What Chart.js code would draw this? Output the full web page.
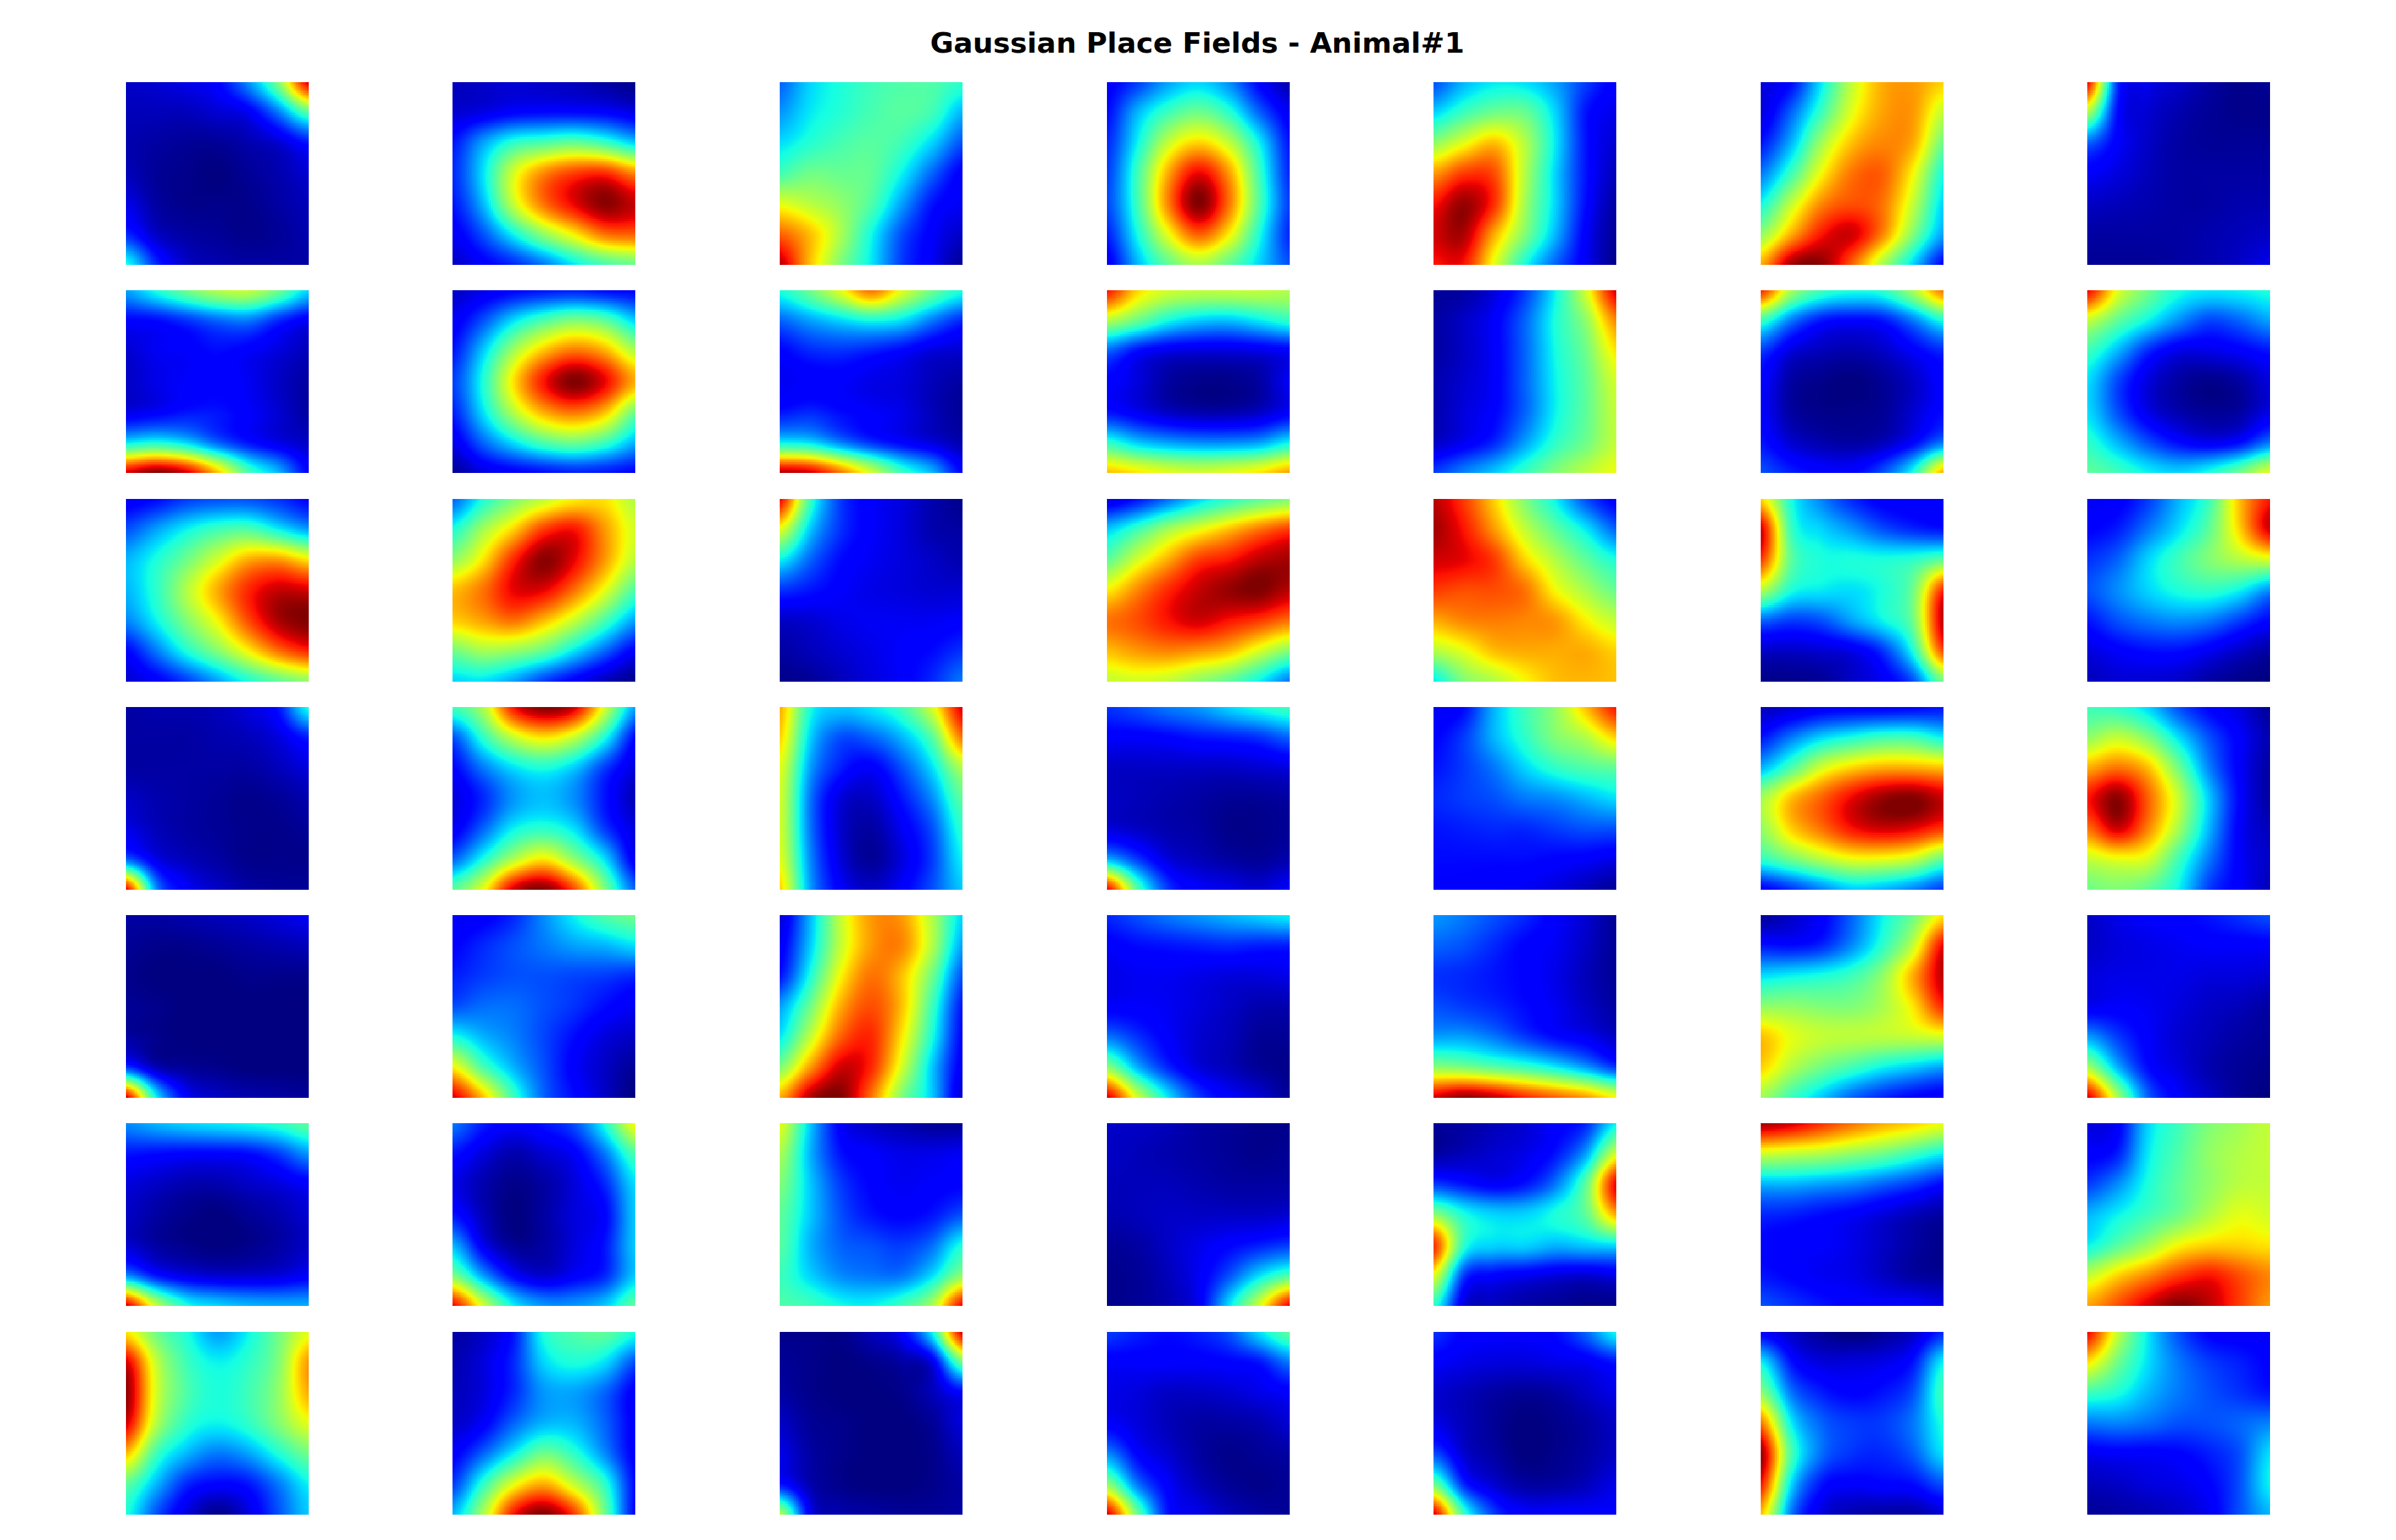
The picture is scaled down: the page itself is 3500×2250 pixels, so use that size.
<!DOCTYPE html>
<html>
<head>
<meta charset="utf-8">
<title>Gaussian Place Fields - Animal#1</title>
<script src="https://cdn.jsdelivr.net/npm/chart.js@4"></script>
<style>
  body { margin: 0; background: #fff; width: 3500px; height: 2250px; position: relative; overflow: hidden; }
  #title { position: absolute; left: 0; width: 3498px; top: 38px; text-align: center;
           font: bold 41.67px "DejaVu Sans"; color: #000; }
  canvas { position: absolute; }
</style>
</head>
<body>
<div id="title">Gaussian Place Fields - Animal#1</div>
<script>
// firing rate at 7x7 sample positions, top row first, 0-99 on the colour scale
const f11 = [[6,7,9,12,26,50,92],[5,5,5,7,10,24,45],[4,3,2,2,4,7,14],[5,2,1,0,2,4,7],[9,3,1,1,1,3,5],[16,6,3,2,1,2,4],[38,16,6,4,3,3,3]];
const f12 = [[5,6,7,6,5,3,1],[7,9,12,13,13,12,9],[14,28,40,44,47,42,33],[16,34,60,76,84,86,76],[14,30,58,78,90,98,93],[10,20,36,52,65,78,80],[6,11,16,24,35,43,47]];
const f13 = [[22,33,38,42,44,44,40],[27,35,39,43,45,42,30],[34,39,43,45,42,33,20],[43,48,47,46,36,22,11],[62,57,52,44,28,14,10],[80,70,55,37,20,11,6],[94,70,50,35,18,10,2]];
const f14 = [[11,18,28,33,26,12,4],[13,30,42,48,40,22,10],[16,36,58,68,58,36,14],[18,42,72,90,74,42,16],[19,42,76,99,78,44,18],[15,37,62,80,65,38,16],[10,30,46,55,46,33,20]];
const f15 = [[20,30,35,34,28,18,11],[33,42,48,47,33,14,9],[52,62,70,56,35,14,7],[74,84,82,56,33,14,5],[88,97,85,54,33,13,3],[92,95,72,50,30,11,2],[88,88,62,38,22,10,1]];
const f16 = [[8,13,35,58,72,74,68],[8,22,42,62,73,74,58],[14,30,54,70,76,72,48],[24,42,64,78,80,64,38],[37,58,76,82,78,58,33],[52,72,88,92,76,50,28],[72,96,98,80,55,33,12]];
const f17 = [[90,17,9,6,3,1,2],[55,13,7,4,2,1,1],[22,11,6,3,2,2,2],[11,8,5,3,3,3,3],[6,5,4,3,3,4,4],[3,3,3,3,4,5,6],[2,2,2,3,4,6,9]];

const f21 = [[28,38,48,56,58,48,33],[12,13,17,22,24,16,10],[7,10,11,13,11,8,5],[6,9,11,12,10,6,3],[9,11,14,14,11,7,3],[35,38,33,22,14,9,6],[92,99,92,70,44,30,12]];
const f22 = [[6,9,12,14,15,13,12],[10,20,34,44,50,46,33],[14,32,54,70,78,72,56],[18,38,66,88,99,90,72],[15,34,56,72,78,70,48],[9,22,34,44,48,42,30],[2,8,11,13,15,14,12]];
const f23 = [[38,48,62,78,62,48,38],[22,28,33,37,34,24,16],[12,16,17,15,12,8,7],[10,11,11,9,8,5,3],[14,16,13,11,9,5,2],[36,34,25,17,12,8,4],[95,92,78,60,42,30,12]];
const f24 = [[88,68,60,58,58,58,56],[56,47,37,32,31,35,40],[22,13,9,8,8,9,11],[12,8,3,1,1,3,10],[14,10,6,4,4,6,11],[40,32,28,26,26,28,36],[70,66,62,60,62,66,73]];
const f25 = [[2,3,8,18,36,60,92],[3,6,11,22,38,52,76],[3,6,11,22,37,48,66],[4,7,11,22,36,46,60],[4,8,12,22,36,46,58],[6,10,16,28,40,48,58],[18,25,32,41,50,57,63]];
const f26 = [[86,55,42,38,40,55,78],[42,24,14,12,14,24,38],[18,8,5,4,6,11,16],[12,3,1,0,2,6,12],[11,3,1,1,2,7,13],[14,7,4,3,5,12,24],[20,15,12,12,20,38,72]];
const f27 = [[90,62,48,38,35,36,38],[58,46,36,26,19,22,28],[42,30,16,9,9,11,14],[34,19,8,3,1,3,8],[34,20,9,4,2,3,9],[40,30,20,13,10,13,24],[46,42,36,33,38,48,62]];

const f31 = [[10,13,18,20,20,17,12],[20,28,36,42,44,36,28],[30,38,48,60,72,74,66],[30,40,56,72,86,93,92],[25,36,50,64,82,95,99],[12,24,38,50,64,78,86],[7,11,18,28,38,46,52]];
const f32 = [[22,38,50,58,65,66,56],[38,54,68,84,88,74,60],[52,66,86,98,90,74,57],[70,78,90,90,78,62,44],[68,73,78,70,58,43,28],[48,54,52,46,34,22,11],[33,34,28,18,11,5,1]];
const f33 = [[90,42,18,11,8,4,1],[62,32,17,11,8,4,3],[36,22,13,10,8,6,4],[17,14,11,9,8,7,7],[6,7,9,10,10,10,11],[3,5,7,9,11,13,17],[1,2,5,8,11,16,24]];
const f34 = [[8,14,23,33,40,46,50],[32,42,54,62,70,78,84],[46,60,72,84,88,94,96],[65,76,86,93,97,99,94],[78,82,88,92,88,84,78],[70,74,76,74,70,60,50],[58,60,58,52,46,36,24]];
const f35 = [[94,84,68,50,36,20,11],[96,88,74,58,46,35,22],[92,90,84,68,56,46,38],[84,82,82,78,64,55,47],[72,76,77,76,74,65,58],[56,62,70,72,72,72,68],[35,50,56,64,70,71,70]];
const f36 = [[68,38,25,16,11,11,11],[92,42,33,27,20,16,14],[84,46,38,38,38,40,46],[56,38,35,34,38,48,86],[22,18,20,28,36,48,94],[6,6,7,9,17,38,82],[1,1,2,6,10,20,48]];
const f37 = [[10,11,18,30,42,70,88],[12,15,24,34,46,68,92],[17,22,33,42,50,56,60],[20,26,33,38,40,36,26],[14,20,24,26,24,18,12],[8,11,13,13,10,6,3],[5,7,7,6,3,1,0]];

const f41 = [[3,4,4,5,8,14,38],[3,3,3,4,5,8,15],[3,3,3,3,3,5,8],[6,4,3,2,1,2,4],[9,5,3,2,1,1,2],[22,9,5,3,1,1,1],[90,26,11,6,3,2,2]];
const f42 = [[42,55,88,99,92,60,28],[20,40,58,66,58,38,13],[12,24,34,38,32,18,8],[8,16,27,31,26,14,5],[10,22,36,40,34,18,8],[22,38,56,66,52,34,10],[45,62,92,99,82,50,22]];
const f43 = [[72,38,32,35,42,60,92],[68,33,20,22,30,45,78],[62,28,15,11,20,34,56],[60,24,8,6,14,26,46],[60,24,7,3,10,20,40],[62,26,8,2,8,18,36],[68,28,11,6,11,20,32]];
const f44 = [[17,20,24,27,33,38,42],[11,11,12,14,15,17,22],[6,6,6,6,6,7,8],[6,5,4,3,2,2,3],[8,6,4,3,1,1,2],[30,18,8,5,3,2,4],[90,45,18,11,9,7,11]];
const f45 = [[10,13,30,42,52,70,88],[12,18,30,40,50,56,68],[14,18,24,33,40,44,46],[16,18,20,24,26,30,34],[14,15,16,16,18,20,20],[13,13,13,13,12,11,9],[12,12,11,10,8,5,2]];
const f46 = [[5,7,10,11,11,12,14],[14,24,33,38,42,42,36],[30,44,60,68,72,72,70],[54,70,80,90,97,99,93],[52,68,78,88,92,90,84],[40,48,56,62,62,58,46],[11,17,25,32,30,25,18]];
const f47 = [[42,40,33,20,12,8,2],[52,58,50,34,20,11,4],[72,78,70,48,25,11,3],[88,98,80,58,32,12,3],[78,92,76,54,30,11,5],[58,62,60,42,24,11,6],[48,50,46,36,18,11,5]];

const f51 = [[3,3,4,5,6,8,10],[2,1,1,2,3,4,5],[1,0,0,0,1,1,1],[2,1,0,0,0,0,0],[3,1,0,0,0,0,0],[18,5,2,1,0,0,0],[92,36,11,6,4,3,2]];
const f52 = [[10,11,16,26,36,44,48],[12,16,20,24,28,30,34],[15,18,20,20,19,18,16],[20,23,23,20,17,13,10],[38,30,25,19,13,8,6],[65,44,30,20,11,6,2],[92,70,42,22,13,6,0]];
const f53 = [[7,30,58,74,74,56,33],[10,32,58,74,76,56,28],[14,38,64,78,70,48,20],[28,48,72,82,70,42,14],[35,58,80,86,66,38,12],[50,74,92,86,60,32,10],[72,95,99,78,50,32,6]];
const f54 = [[16,20,24,27,30,33,36],[11,13,14,15,16,15,15],[9,10,10,9,8,8,9],[11,11,10,8,6,4,4],[24,17,11,7,5,2,2],[52,30,16,8,5,2,1],[92,60,35,18,11,7,2]];
const f55 = [[27,24,20,16,11,7,2],[22,20,16,12,10,6,2],[17,16,14,12,9,5,2],[20,18,16,13,10,6,3],[28,28,24,18,13,10,6],[52,50,46,42,36,28,18],[92,98,94,86,80,74,64]];
const f56 = [[2,6,11,22,36,48,66],[14,13,16,26,40,58,90],[34,36,38,42,52,72,94],[52,52,50,50,55,66,86],[70,62,58,57,57,58,60],[68,56,48,42,36,32,28],[54,42,32,22,16,12,10]];
const f57 = [[6,9,11,12,14,17,20],[6,8,9,10,11,11,11],[8,9,9,9,8,8,7],[10,11,10,8,6,5,3],[28,18,11,7,5,3,2],[55,30,13,8,4,2,1],[92,55,22,11,6,2,0]];

const f61 = [[26,30,33,35,37,40,46],[14,13,12,12,13,18,27],[8,6,4,4,6,8,11],[6,3,1,0,2,4,7],[7,3,1,0,1,3,6],[26,14,9,7,7,8,11],[92,58,38,33,30,29,29]];
const f62 = [[24,15,11,14,20,38,64],[14,8,4,7,11,24,44],[9,4,1,3,8,16,34],[14,5,0,3,8,12,32],[30,10,2,3,8,14,32],[50,28,12,7,11,16,32],[90,60,36,27,27,32,46]];
const f63 = [[62,32,11,6,4,2,2],[55,30,14,11,9,9,10],[50,32,18,12,10,11,12],[46,32,20,14,12,14,20],[45,30,22,20,18,23,38],[42,33,26,24,24,34,52],[44,42,37,36,42,55,90]];
const f64 = [[6,6,5,3,2,1,1],[6,5,4,3,2,1,2],[5,5,5,4,3,3,3],[4,5,6,6,6,6,7],[2,3,6,9,12,15,18],[1,2,5,10,20,34,44],[1,2,4,10,34,60,90]];
const f65 = [[2,3,5,7,11,16,36],[3,5,7,9,14,28,60],[18,14,11,14,24,46,90],[52,38,33,33,38,46,72],[85,40,33,33,30,32,34],[62,18,12,10,8,7,9],[40,8,5,3,2,1,1]];
const f66 = [[96,92,85,78,72,68,63],[60,58,56,52,48,42,36],[30,30,28,26,22,18,13],[16,15,13,11,8,5,3],[12,11,11,9,6,3,1],[14,12,10,9,6,3,2],[20,17,14,12,11,11,9]];
const f67 = [[8,11,33,42,50,54,58],[11,15,35,44,52,56,58],[18,26,38,46,52,57,58],[30,36,42,48,56,62,60],[36,45,54,64,68,68,66],[58,68,76,84,88,82,76],[73,82,92,99,94,84,74]];

const f71 = [[66,48,38,28,36,48,62],[92,58,42,36,40,50,74],[98,60,44,38,42,52,72],[92,56,40,36,40,50,62],[70,42,30,24,28,38,48],[46,30,16,12,14,24,36],[38,20,8,1,8,20,32]];
const f72 = [[3,6,14,38,44,46,38],[4,8,16,33,38,34,20],[5,8,16,27,28,22,11],[6,11,22,30,30,22,11],[11,22,36,48,40,26,11],[18,40,62,72,58,40,13],[30,55,88,99,84,48,12]];
const f73 = [[1,1,1,5,11,36,92],[2,1,0,1,3,9,48],[3,1,0,0,1,5,12],[6,2,1,0,0,2,8],[9,3,1,0,0,1,5],[14,4,1,0,0,1,3],[56,10,4,3,2,2,3]];
const f74 = [[18,15,13,15,20,34,46],[11,11,11,11,12,14,24],[9,8,6,6,7,9,11],[11,8,5,3,3,4,7],[26,12,7,3,1,2,3],[52,24,11,5,2,1,2],[92,48,14,9,5,3,2]];
const f75 = [[17,12,11,11,13,22,37],[11,9,8,8,9,10,14],[7,5,3,2,3,6,9],[9,5,2,0,1,3,6],[20,7,3,0,1,3,6],[48,16,7,3,3,5,9],[92,42,18,11,11,11,11]];
const f76 = [[11,6,2,0,2,6,16],[36,14,8,8,9,14,36],[52,24,15,12,14,20,42],[78,36,22,18,18,24,38],[97,44,23,17,16,21,34],[88,34,14,11,12,13,20],[70,24,8,4,3,3,7]];
const f77 = [[90,58,35,20,12,11,11],[66,48,34,24,18,15,12],[42,38,30,24,20,17,14],[24,25,23,20,20,22,25],[10,11,11,12,15,20,34],[5,6,8,9,12,20,36],[2,3,4,6,10,20,30]];

const panels = [
  f11, f12, f13, f14, f15, f16, f17,
  f21, f22, f23, f24, f25, f26, f27,
  f31, f32, f33, f34, f35, f36, f37,
  f41, f42, f43, f44, f45, f46, f47,
  f51, f52, f53, f54, f55, f56, f57,
  f61, f62, f63, f64, f65, f66, f67,
  f71, f72, f73, f74, f75, f76, f77,
];

const PANEL_SIZE = 267;
const IMAGE_CELLS = 100; // the reference image is a 100x100 raster
const COLUMN_LEFT = [184, 661, 1139, 1617, 2094, 2572, 3049];
const ROW_TOP = [120, 424, 729, 1033, 1337, 1641, 1946];

// matplotlib's jet segments
const JET_R = [[0, 0], [0.35, 0], [0.66, 1], [0.89, 1], [1, 0.5]];
const JET_G = [[0, 0], [0.125, 0], [0.375, 1], [0.64, 1], [0.91, 0], [1, 0]];
const JET_B = [[0, 0.5], [0.11, 1], [0.34, 1], [0.65, 0], [1, 0]];

function segment(stops, t) {
  for (let i = 1; i < stops.length; i++) {
    if (t <= stops[i][0]) {
      const [x0, y0] = stops[i - 1];
      const [x1, y1] = stops[i];
      return y0 + ((y1 - y0) * (t - x0)) / (x1 - x0);
    }
  }
  return stops[stops.length - 1][1];
}

function jet(t) {
  return [segment(JET_R, t) * 255, segment(JET_G, t) * 255, segment(JET_B, t) * 255];
}

function cubic(a, b, c, d, t) {
  return b + 0.5 * t * (c - a + t * (2 * a - 5 * b + 4 * c - d + t * (3 * (b - c) + d - a)));
}

// Same idea as imshow(interpolation="bicubic"): the dataset stays the sampled values,
// the shading between the samples happens only at draw time.
function shade(grid, u, v) {
  const n = grid.length - 1;
  const at = (r, c) => grid[Math.max(0, Math.min(n, r))][Math.max(0, Math.min(n, c))];
  const r0 = Math.min(n - 1, Math.floor(v));
  const c0 = Math.min(n - 1, Math.floor(u));
  const rows = [-1, 0, 1, 2].map((d) =>
    cubic(at(r0 + d, c0 - 1), at(r0 + d, c0), at(r0 + d, c0 + 1), at(r0 + d, c0 + 2), u - c0)
  );
  return cubic(rows[0], rows[1], rows[2], rows[3], v - r0);
}

const fieldShade = {
  id: "fieldShade",
  beforeDatasetsDraw(chart) {
    const { x: xs, y: ys } = chart.scales;
    const grid = [];
    chart.data.datasets[0].data.forEach((p) => {
      (grid[p.y] = grid[p.y] || [])[p.x] = p.rate;
    });
    const off = document.createElement("canvas");
    off.width = off.height = IMAGE_CELLS;
    const octx = off.getContext("2d");
    const img = octx.createImageData(IMAGE_CELLS, IMAGE_CELLS);
    for (let i = 0; i < IMAGE_CELLS; i++) {
      for (let j = 0; j < IMAGE_CELLS; j++) {
        const u = (xs.max * (j + 0.5)) / IMAGE_CELLS;
        const v = (ys.max * (i + 0.5)) / IMAGE_CELLS;
        const [r, g, b] = jet(Math.max(0, Math.min(1, shade(grid, u, v) / 99)));
        const k = 4 * (i * IMAGE_CELLS + j);
        img.data[k] = r;
        img.data[k + 1] = g;
        img.data[k + 2] = b;
        img.data[k + 3] = 255;
      }
    }
    octx.putImageData(img, 0, 0);
    const left = xs.getPixelForValue(xs.min);
    const right = xs.getPixelForValue(xs.max);
    const top = ys.getPixelForValue(ys.min);
    const bottom = ys.getPixelForValue(ys.max);
    chart.ctx.imageSmoothingEnabled = false;
    chart.ctx.drawImage(off, left, top, right - left, bottom - top);
  },
};

panels.forEach((grid, idx) => {
  const canvas = document.createElement("canvas");
  canvas.width = canvas.height = PANEL_SIZE;
  canvas.style.left = COLUMN_LEFT[idx % 7] + "px";
  canvas.style.top = ROW_TOP[Math.floor(idx / 7)] + "px";
  canvas.style.width = canvas.style.height = PANEL_SIZE + "px";
  document.body.appendChild(canvas);

  const points = [];
  grid.forEach((row, y) => row.forEach((rate, x) => points.push({ x, y, rate })));

  new Chart(canvas, {
    type: "scatter",
    data: { datasets: [{ data: points, pointRadius: 0 }] },
    plugins: [fieldShade],
    options: {
      responsive: false,
      animation: false,
      devicePixelRatio: 1,
      layout: { padding: 0 },
      plugins: { legend: { display: false }, tooltip: { enabled: false }, title: { display: false } },
      scales: {
        x: { display: false, min: 0, max: 6 },
        y: { display: false, min: 0, max: 6, reverse: true },
      },
    },
  });
});
</script>
</body>
</html>
